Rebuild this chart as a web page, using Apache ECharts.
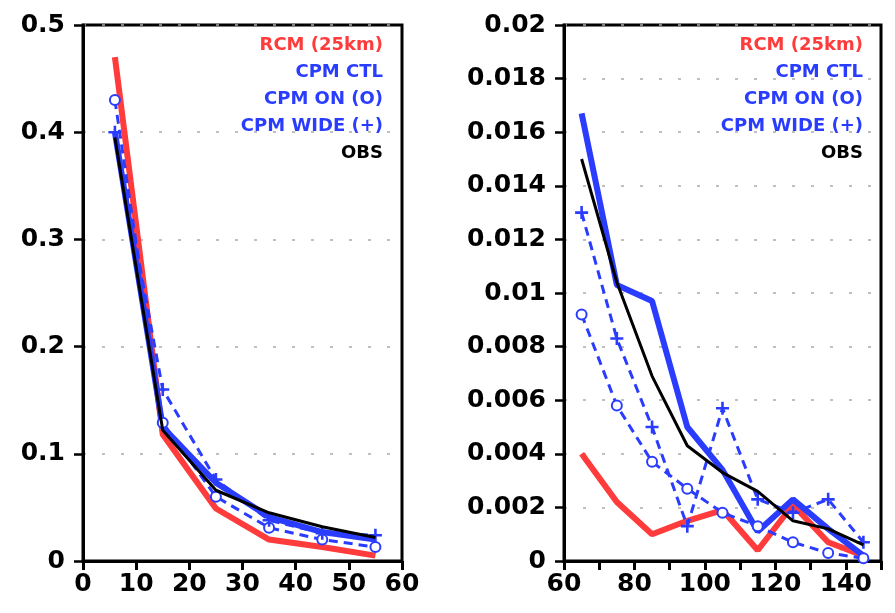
<!DOCTYPE html>
<html>
<head>
<meta charset="utf-8">
<script src="https://cdn.jsdelivr.net/npm/echarts@6/dist/echarts.min.js"></script>
<style>
html,body{margin:0;padding:0;background:#fff;}
#chart{width:895px;height:613px;}
</style>
</head>
<body>
<div id="chart"></div>
<script>
// ---- data ----
const seriesNames = ['RCM (25km)', 'CPM CTL', 'CPM ON (O)', 'CPM WIDE (+)', 'OBS'];
const xLeft = [6, 15, 25, 35, 45, 55];
const rcmLeft  = [0.470, 0.118, 0.049, 0.020, 0.013, 0.005];
const ctlLeft  = [0.400, 0.125, 0.073, 0.041, 0.027, 0.020];
const onLeft   = [0.430, 0.129, 0.060, 0.031, 0.020, 0.013];
const wideLeft = [0.400, 0.160, 0.076, 0.038, 0.026, 0.024];
const obsLeft  = [0.395, 0.122, 0.066, 0.045, 0.032, 0.022];

const xRight = [65, 75, 85, 95, 105, 115, 125, 135, 145];
const rcmRight  = [0.0040, 0.0022, 0.0010, 0.0015, 0.0019, 0.0004, 0.0021, 0.0007, 0.0002];
const ctlRight  = [0.0167, 0.0103, 0.0097, 0.0050, 0.0034, 0.0011, 0.0023, 0.0012, 0.0002];
const onRight   = [0.0092, 0.0058, 0.0037, 0.0027, 0.0018, 0.0013, 0.0007, 0.0003, 0.0001];
const wideRight = [0.0130, 0.0083, 0.0050, 0.0013, 0.0057, 0.0023, 0.0018, 0.0023, 0.0007];
const obsRight  = [0.0150, 0.0104, 0.0069, 0.0043, 0.0033, 0.0026, 0.0015, 0.0012, 0.0006];

// ---- styles ----
const RED = '#ff3b3b', BLUE = '#2a3dff', BLACK = '#000';
const FONT = 'DejaVu Sans';
const plusPath = 'path://M4,0h2v4h4v2h-4v4h-2v-4h-4v-2h4z';

function pairs(xs, ys) { return xs.map((x, i) => [x, ys[i]]); }

function makeSeries(idx, xs, sets) {
  const [rcm, ctl, on, wide, obs] = sets;
  return [
    {name: seriesNames[0], type: 'line', xAxisIndex: idx, yAxisIndex: idx, data: pairs(xs, rcm),
     symbol: 'none', lineStyle: {color: RED, width: 6}, z: 2},
    {name: seriesNames[1], type: 'line', xAxisIndex: idx, yAxisIndex: idx, data: pairs(xs, ctl),
     symbol: 'none', lineStyle: {color: BLUE, width: 6}, z: 3},
    {name: seriesNames[2], type: 'line', xAxisIndex: idx, yAxisIndex: idx, data: pairs(xs, on),
     symbol: 'emptyCircle', symbolSize: 10, showAllSymbol: true,
     itemStyle: {color: BLUE, borderColor: BLUE, borderWidth: 2.5},
     lineStyle: {color: BLUE, width: 3, type: [9, 6]}, z: 4},
    {name: seriesNames[3], type: 'line', xAxisIndex: idx, yAxisIndex: idx, data: pairs(xs, wide),
     symbol: plusPath, symbolSize: 13, showAllSymbol: true,
     itemStyle: {color: BLUE},
     lineStyle: {color: BLUE, width: 3, type: [9, 6]}, z: 5},
    {name: seriesNames[4], type: 'line', xAxisIndex: idx, yAxisIndex: idx, data: pairs(xs, obs),
     symbol: 'none', lineStyle: {color: BLACK, width: 3}, z: 6}
  ];
}

function xAxisDef(idx, min, max, fmt) {
  return {
    type: 'value', gridIndex: idx, min: min, max: max, interval: 10,
    axisLine: {show: true, onZero: false, lineStyle: {color: '#000', width: 3}},
    axisTick: {show: true, inside: false, length: 9, lineStyle: {color: '#000', width: 3}},
    axisLabel: {color: '#000', fontFamily: FONT, fontWeight: 'bold', fontSize: 25, margin: 11, formatter: fmt},
    splitLine: {show: false}
  };
}
function yAxisDef(idx, min, max, interval) {
  return {
    type: 'value', gridIndex: idx, min: min, max: max, interval: interval,
    axisLine: {show: true, onZero: false, lineStyle: {color: '#000', width: 3}},
    axisTick: {show: true, inside: false, length: 9, lineStyle: {color: '#000', width: 2.5}},
    axisLabel: {color: '#000', fontFamily: FONT, fontWeight: 'bold', fontSize: 25, margin: 18},
    splitLine: {show: true, lineStyle: {color: '#aaa', width: 1.5, type: [3, 16]}}
  };
}

function legendTexts(rightX) {
  const colors = [RED, BLUE, BLUE, BLUE, BLACK];
  return seriesNames.map((n, i) => ({
    type: 'text', x: rightX, y: 45 + i * 27,
    style: {text: n, fill: colors[i], font: 'bold 18px "' + FONT + '"', align: 'right', verticalAlign: 'middle'},
    z: 100
  }));
}

const chart = echarts.init(document.getElementById('chart'));
chart.setOption({
  backgroundColor: '#fff',
  animation: false,
  grid: [
    {left: 83, right: 493, top: 25, bottom: 52, show: true, borderColor: '#000', borderWidth: 3},
    {left: 564, right: 14, top: 25, bottom: 52, show: true, borderColor: '#000', borderWidth: 3}
  ],
  xAxis: [
    xAxisDef(0, 0, 60, v => String(v)),
    xAxisDef(1, 60, 150, v => (v % 20 === 0 && v < 150) ? String(v) : '')
  ],
  yAxis: [
    yAxisDef(0, 0, 0.5, 0.1),
    yAxisDef(1, 0, 0.02, 0.002)
  ],
  series: makeSeries(0, xLeft, [rcmLeft, ctlLeft, onLeft, wideLeft, obsLeft])
    .concat(makeSeries(1, xRight, [rcmRight, ctlRight, onRight, wideRight, obsRight])),
  graphic: legendTexts(383).concat(legendTexts(863))
});
</script>
</body>
</html>
